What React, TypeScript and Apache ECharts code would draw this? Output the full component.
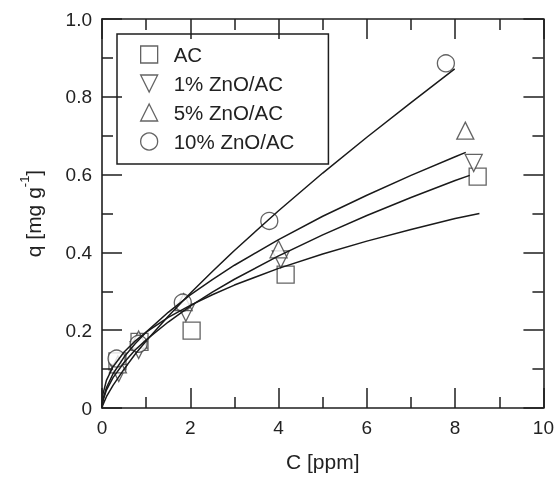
import React, { useEffect, useRef } from "react";
import * as echarts from "echarts";

// Measured points
const acC = [0.35, 0.85, 2.03, 4.16, 8.51];
const acQ = [0.12, 0.17, 0.199, 0.343, 0.595];
const zn1C = [0.38, 0.83, 1.9, 4.05, 8.42];
const zn1Q = [0.09, 0.149, 0.245, 0.382, 0.63];
const zn5C = [0.36, 0.83, 1.85, 4.0, 8.23];
const zn5Q = [0.112, 0.176, 0.272, 0.408, 0.713];
const zn10C = [0.33, 0.83, 1.83, 3.79, 7.79];
const zn10Q = [0.127, 0.165, 0.271, 0.481, 0.886];

// Fitted curves
const acFitC = [0, 0.02, 0.1, 0.25, 0.5, 0.75, 1, 1.5, 2, 2.5, 3, 4, 5, 6, 7, 8, 8.55];
const acFitQ = [0, 0.035, 0.071, 0.106, 0.144, 0.172, 0.195, 0.233, 0.264, 0.291, 0.316, 0.359, 0.396, 0.429, 0.459, 0.487, 0.5];
const zn1FitC = [0, 0.02, 0.1, 0.25, 0.5, 0.75, 1, 1.5, 2, 2.5, 3, 4, 5, 6, 7, 8, 8.33];
const zn1FitQ = [0, 0.018, 0.046, 0.078, 0.117, 0.149, 0.175, 0.221, 0.262, 0.298, 0.331, 0.391, 0.445, 0.495, 0.541, 0.585, 0.598];
const zn5FitC = [0, 0.02, 0.1, 0.25, 0.5, 0.75, 1, 1.5, 2, 2.5, 3, 4, 5, 6, 7, 8, 8.24];
const zn5FitQ = [0, 0.021, 0.052, 0.088, 0.131, 0.165, 0.195, 0.246, 0.291, 0.33, 0.367, 0.433, 0.493, 0.547, 0.598, 0.646, 0.657];
const zn10FitC = [0, 0.02, 0.1, 0.25, 0.5, 0.75, 1, 1.5, 2, 2.5, 3, 4, 5, 6, 7, 7.99];
const zn10FitQ = [0, 0.008, 0.029, 0.058, 0.1, 0.138, 0.172, 0.236, 0.295, 0.351, 0.405, 0.507, 0.604, 0.696, 0.785, 0.872];

const names = ["AC", "1% ZnO/AC", "5% ZnO/AC", "10% ZnO/AC"];

const FONT = "'Liberation Sans', Arial, Helvetica, sans-serif";
const AXIS = "#1e1e1e";
const MARK = "#3c3c3c";
const DOWN_TRI = "path://M0,0 L10,0 L5,10 Z";

const pairs = (xs: number[], ys: number[]) => xs.map((x, i) => [x, ys[i]]);

export default function App() {
  const ref = useRef<HTMLDivElement>(null);
  useEffect(() => {
    if (!ref.current) return;
    const chart = echarts.init(ref.current, null, { renderer: "svg" });
    const markStyle = () => ({ color: "#fff", borderColor: MARK, borderWidth: 1.3 });
    const lineSeries = (C: number[], Q: number[]) => ({
      type: "line",
      data: pairs(C, Q),
      showSymbol: false,
      smooth: false,
      lineStyle: { color: "#1a1a1a", width: 1.5 },
      silent: true,
    });
    const scatter = (name: string, C: number[], Q: number[], symbol: string) => ({
      type: "scatter",
      name,
      data: pairs(C, Q),
      symbol,
      symbolSize: 17,
      itemStyle: markStyle(),
    });
    const mk = (min: number, max: number, interval: number) => ({
      type: "value",
      min,
      max,
      interval,
      z: 10,
      axisLine: { show: true, onZero: false, lineStyle: { color: AXIS, width: 1.6 } },
      axisTick: { show: true, inside: true, length: 20, lineStyle: { color: AXIS, width: 1.5 } },
      minorTick: { show: true, splitNumber: 2, length: 11, lineStyle: { color: AXIS, width: 1.5 } },
      splitLine: { show: false },
      minorSplitLine: { show: false },
    });
    chart.setOption({
      animation: false,
      textStyle: { fontFamily: FONT },
      grid: { left: 102, right: 6, top: 19, bottom: 59, containLabel: false },
      legend: {
        orient: "vertical",
        left: 117,
        top: 34,
        padding: [10, 34, 12, 23],
        itemWidth: 17,
        itemHeight: 17,
        itemGap: 8,
        borderColor: AXIS,
        borderWidth: 1.5,
        textStyle: { fontSize: 20.5, color: "#222", fontFamily: FONT, lineHeight: 17, padding: [0, 0, 0, 11] },
        data: [
          { name: names[0], icon: "rect", itemStyle: markStyle() },
          { name: names[1], icon: DOWN_TRI, itemStyle: markStyle() },
          { name: names[2], icon: "triangle", itemStyle: markStyle() },
          { name: names[3], icon: "circle", itemStyle: markStyle() },
        ],
      },
      xAxis: [
        {
          ...mk(0, 10, 2),
          position: "bottom",
          name: "C [ppm]",
          nameLocation: "middle",
          nameGap: 43,
          nameTextStyle: { fontSize: 21, color: "#222", fontFamily: FONT },
          axisLabel: { show: true, fontSize: 19, color: "#222", margin: 10, fontFamily: FONT },
        },
        { ...mk(0, 10, 2), position: "top", axisLabel: { show: false } },
      ],
      yAxis: [
        {
          ...mk(0, 1, 0.2),
          position: "left",
          name: "{a|q [mg g}{s|-1}{a|]}",
          nameLocation: "middle",
          nameGap: 54,
          nameTextStyle: {
            color: "#222",
            fontFamily: FONT,
            rich: {
              a: { fontSize: 21, lineHeight: 30, color: "#222", fontFamily: FONT },
              s: { fontSize: 13, verticalAlign: "top", color: "#222", fontFamily: FONT },
            },
          },
          axisLabel: {
            show: true,
            fontSize: 19,
            color: "#222",
            margin: 10,
            fontFamily: FONT,
            formatter: (v: number) => (v === 0 ? "0" : v.toFixed(1)),
          },
        },
        { ...mk(0, 1, 0.2), position: "right", axisLabel: { show: false } },
      ],
      series: [
        lineSeries(acFitC, acFitQ),
        lineSeries(zn1FitC, zn1FitQ),
        lineSeries(zn5FitC, zn5FitQ),
        lineSeries(zn10FitC, zn10FitQ),
        scatter(names[0], acC, acQ, "rect"),
        scatter(names[1], zn1C, zn1Q, DOWN_TRI),
        scatter(names[2], zn5C, zn5Q, "triangle"),
        scatter(names[3], zn10C, zn10Q, "circle"),
        {
          type: "line",
          xAxisIndex: 1,
          yAxisIndex: 1,
          data: [],
          showSymbol: false,
          silent: true,
        },
      ],
    });
    return () => chart.dispose();
  }, []);
  return <div ref={ref} style={{ position: "fixed", left: 0, top: 0, width: 557, height: 477 }} />;
}
